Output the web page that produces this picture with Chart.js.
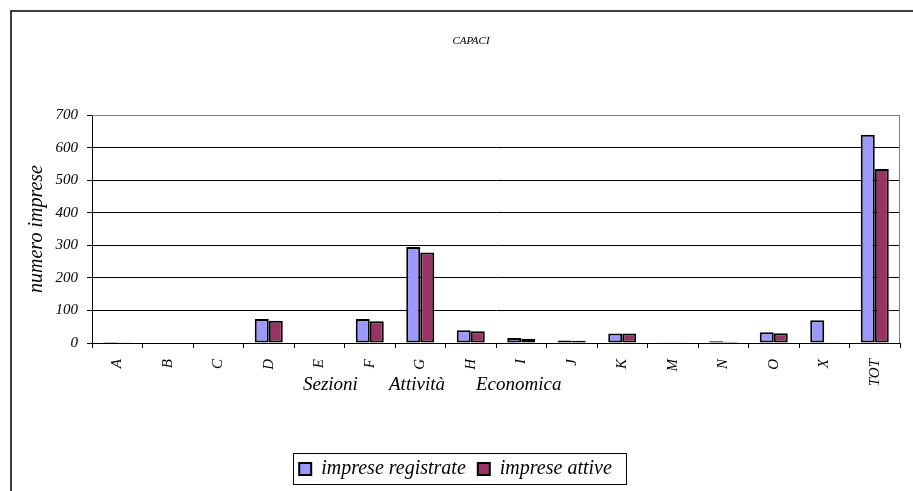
<!DOCTYPE html>
<html>
<head>
<meta charset="utf-8">
<script src="https://cdn.jsdelivr.net/npm/chart.js@4.4.0/dist/chart.umd.min.js"></script>
<style>
  html, body { margin: 0; padding: 0; background: #fff; }
  canvas { display: block; }
</style>
</head>
<body>
<canvas id="myChart" width="913" height="491"></canvas>
<script>
// sezioni di attività economica
var sezioni = ['A', 'B', 'C', 'D', 'E', 'F', 'G', 'H', 'I', 'J', 'K', 'M', 'N', 'O', 'X', 'TOT'];
var impreseRegistrate = [3, 0, 0, 74, 0, 74, 295, 39, 15, 8, 29, 1, 5, 33, 70, 639];
var impreseAttive = [2, 0, 0, 68, 0, 67, 278, 36, 13, 7, 29, 1, 4, 30, 1, 534];
var yTicks = [0, 100, 200, 300, 400, 500, 600, 700];

var serif = '"Liberation Serif", "Times New Roman", serif';

// cornice, titolo, titolo asse x e riquadro legenda
var extras = {
    id: 'extras',
    afterDraw: function (chart) {
        var ctx = chart.ctx;
        var a = chart.chartArea;
        ctx.save();

        ctx.strokeStyle = '#000';
        ctx.lineWidth = 1.5;
        ctx.beginPath();
        ctx.moveTo(11, 491);
        ctx.lineTo(11, 11);
        ctx.lineTo(913, 11);
        ctx.stroke();

        ctx.strokeStyle = '#808080';
        ctx.lineWidth = 1;
        ctx.beginPath();
        ctx.moveTo(a.left, a.top + 0.5);
        ctx.lineTo(a.right - 0.5, a.top + 0.5);
        ctx.lineTo(a.right - 0.5, a.bottom);
        ctx.stroke();

        ctx.fillStyle = '#000';
        ctx.textBaseline = 'middle';
        ctx.font = 'italic 11px ' + serif;
        ctx.textAlign = 'center';
        ctx.fillText('CAPACI', 471, 41);

        ctx.font = 'italic 19px ' + serif;
        ctx.textAlign = 'left';
        ctx.fillText('Sezioni', 303, 385);
        ctx.fillText('Attività', 389, 385);
        ctx.fillText('Economica', 476, 385);

        var hb = chart.legend.legendHitBoxes;
        if (hb && hb.length) {
            var first = hb[0], last = hb[hb.length - 1];
            var cy = first.top + first.height / 2;
            var x0 = first.left - 6;
            var x1 = last.left + last.width + 14;
            ctx.strokeStyle = '#000';
            ctx.lineWidth = 1;
            ctx.strokeRect(Math.round(x0) + 0.5, Math.round(cy - 16) + 0.5, Math.round(x1 - x0), 31);
        }
        ctx.restore();
    }
};

var ctx = document.getElementById('myChart').getContext('2d');
var myChart = new Chart(ctx, {
    type: 'bar',
    data: {
        labels: sezioni,
        datasets: [{
            label: 'imprese registrate',
            data: impreseRegistrate,
            backgroundColor: '#9999FF',
            borderColor: '#000',
            borderWidth: 2,
            borderSkipped: false
        }, {
            label: 'imprese attive',
            data: impreseAttive,
            backgroundColor: '#993366',
            borderColor: '#000',
            borderWidth: 2,
            borderSkipped: false
        }]
    },
    options: {
        responsive: false,
        animation: false,
        devicePixelRatio: 1,
        layout: { padding: { left: 11, right: 13, top: 115, bottom: 2 } },
        datasets: { bar: { categoryPercentage: 0.555, barPercentage: 1.0 } },
        plugins: {
            tooltip: { enabled: false },
            legend: {
                position: 'bottom',
                labels: {
                    color: '#000',
                    boxWidth: 12,
                    boxHeight: 12,
                    padding: 12,
                    font: { family: serif, size: 20, style: 'italic' }
                }
            }
        },
        scales: {
            x: {
                afterFit: function (s) { s.height = 104; },
                grid: { drawOnChartArea: false, drawTicks: true, tickLength: 5, color: '#000' },
                border: { color: '#000', width: 1 },
                ticks: {
                    color: '#000',
                    autoSkip: false,
                    maxRotation: 90,
                    minRotation: 90,
                    padding: 11,
                    font: { family: serif, size: 15, style: 'italic' }
                }
            },
            y: {
                min: 0,
                max: 700,
                afterFit: function (s) { s.width = 81; },
                afterBuildTicks: function (s) {
                    s.ticks = yTicks.map(function (v) { return { value: v }; });
                },
                grid: { color: '#000', tickLength: 5 },
                border: { color: '#000', width: 1 },
                ticks: {
                    color: '#000',
                    padding: 9,
                    font: { family: serif, size: 15, style: 'italic' }
                },
                title: {
                    display: true,
                    text: 'numero imprese',
                    color: '#000',
                    padding: { top: 14, bottom: 0 },
                    font: { family: serif, size: 20, style: 'italic' }
                }
            }
        }
    },
    plugins: [extras]
});
</script>
</body>
</html>
